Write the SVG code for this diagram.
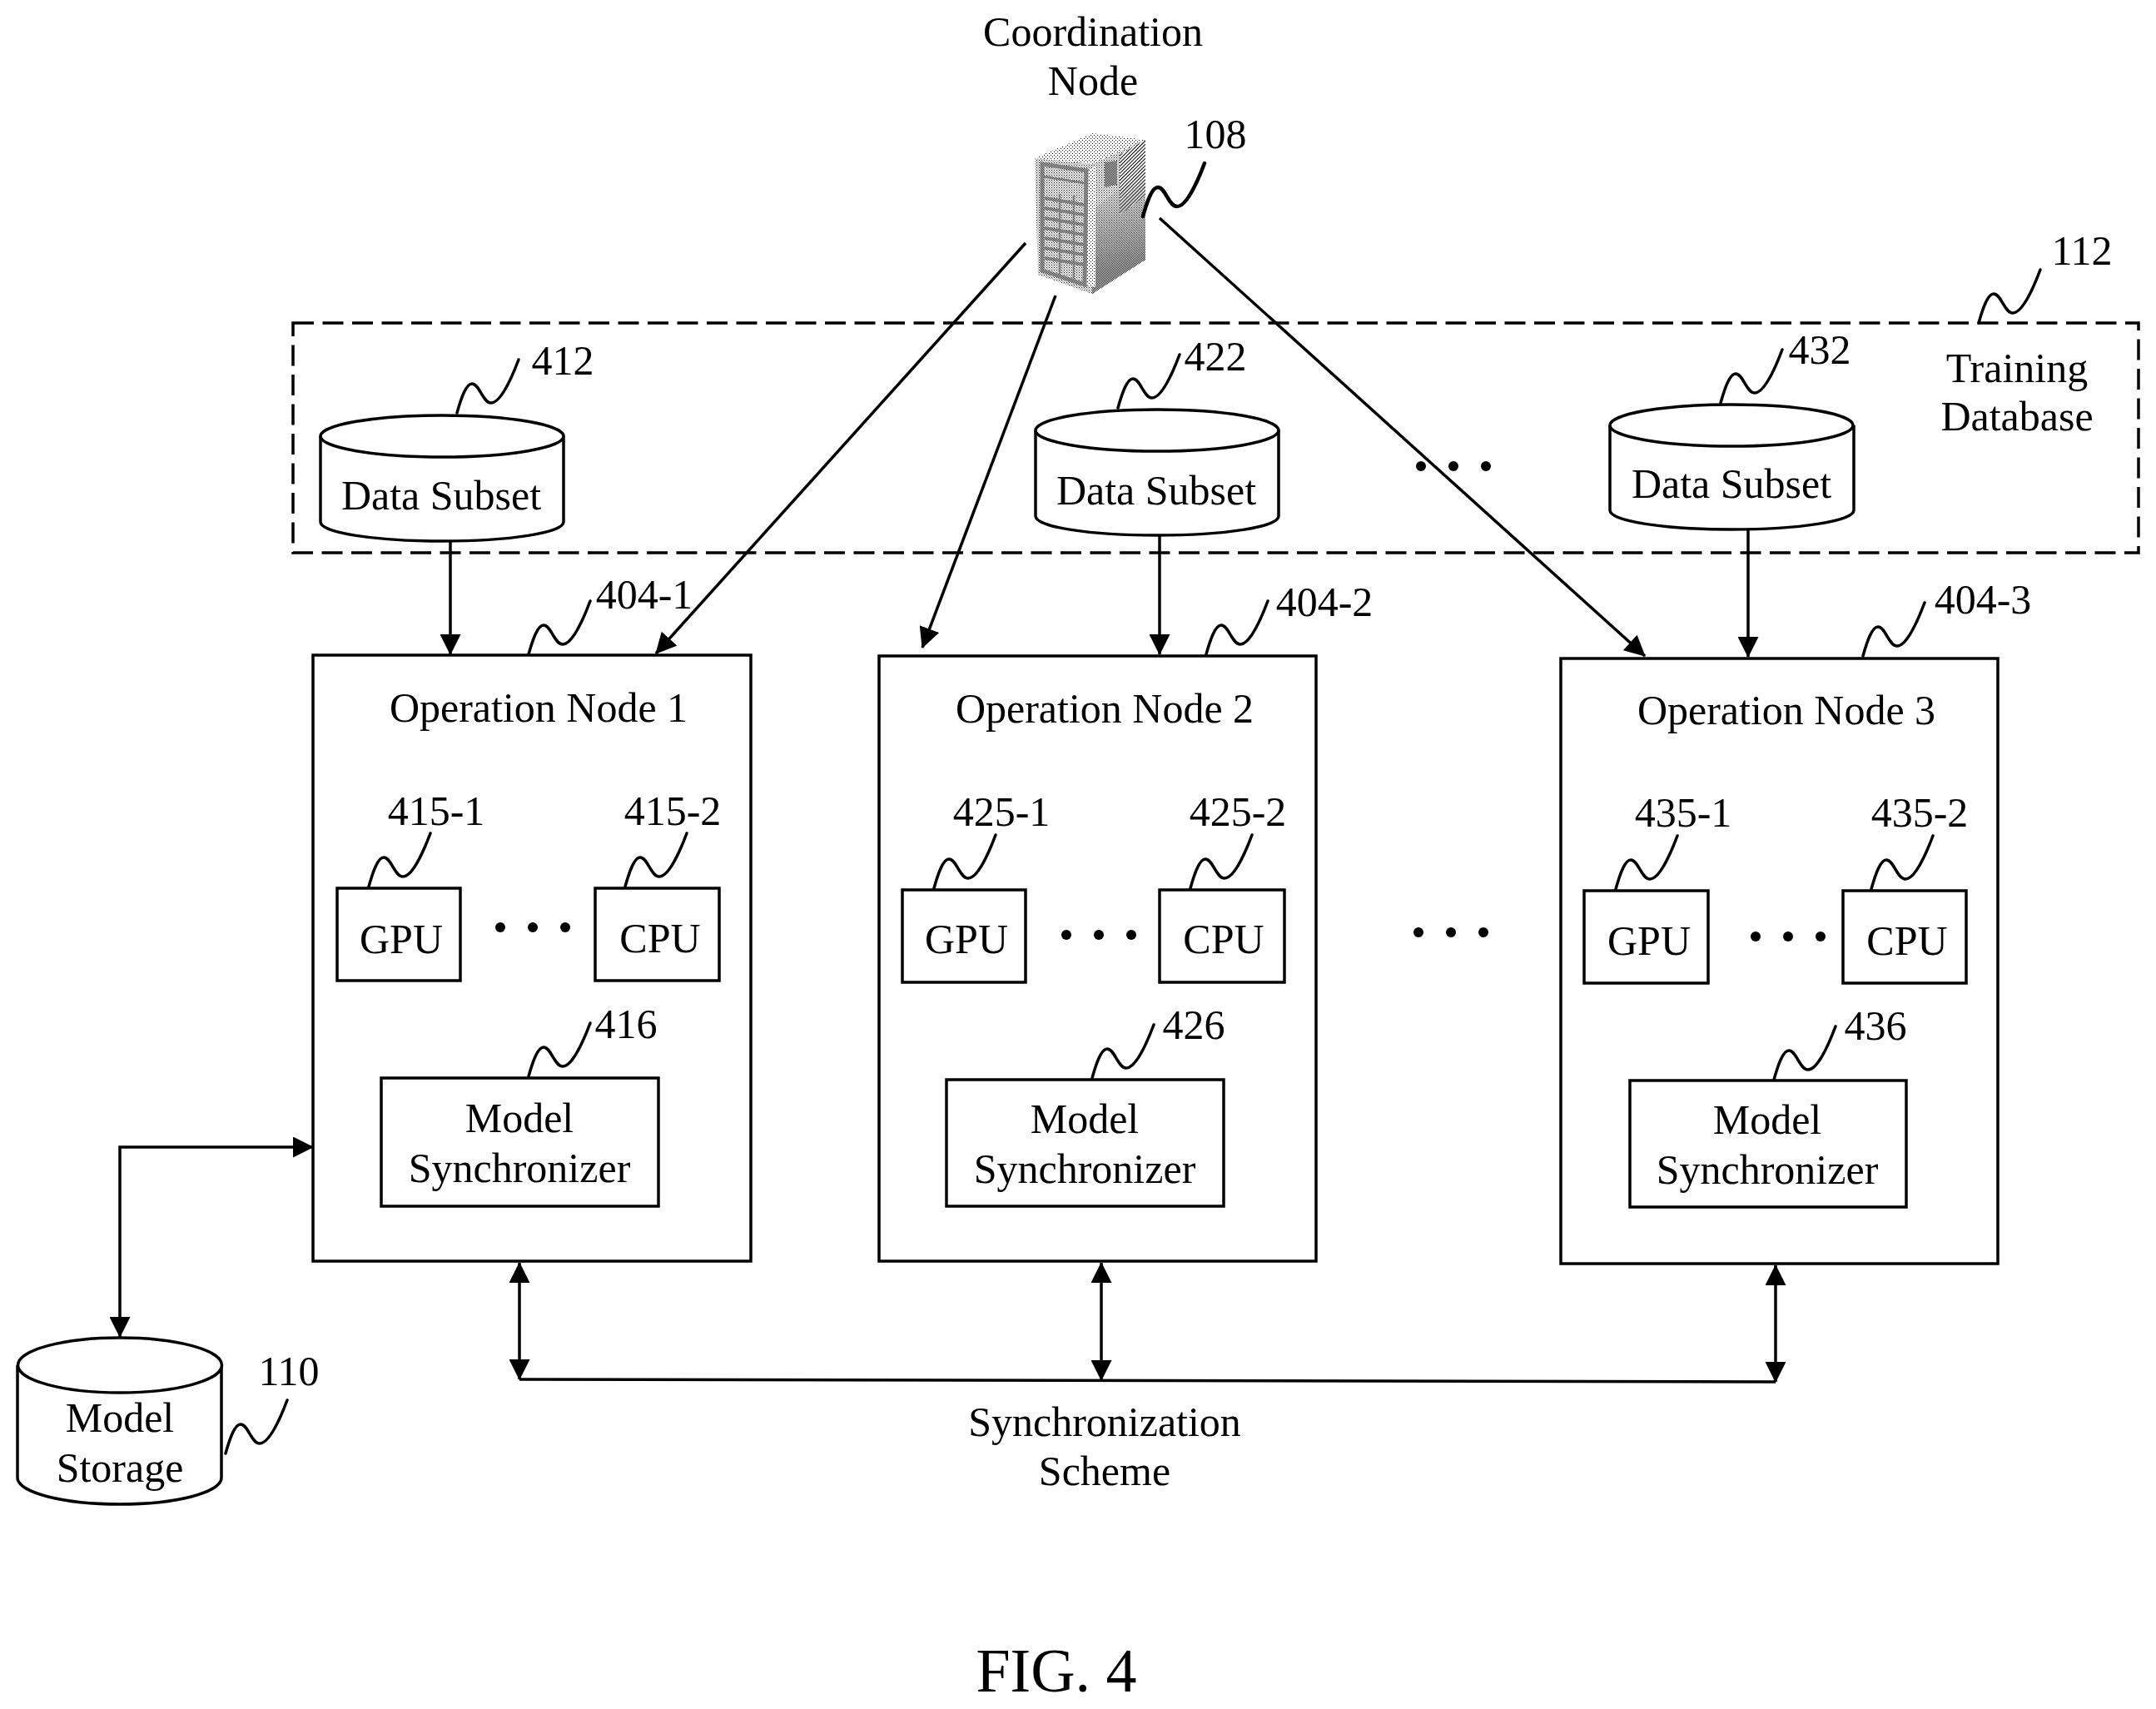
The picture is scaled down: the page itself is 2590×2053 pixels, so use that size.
<svg xmlns="http://www.w3.org/2000/svg" width="2590" height="2053" viewBox="0 0 2590 2053">
<style>
text{font-family:"Liberation Serif","Times New Roman",serif;font-size:50px;fill:#000;text-anchor:middle}
.b{fill:#fff;stroke:#000;stroke-width:3.500}
.n{fill:none;stroke:#000;stroke-width:3.500}
.l{fill:none;stroke:#000;stroke-width:3.500;stroke-linecap:round}
.c{fill:none;stroke:#000;stroke-width:3.500}
.a{marker-end:url(#h)}
.d{marker-start:url(#h);marker-end:url(#h)}
</style>
<defs>
<marker id="h" markerUnits="userSpaceOnUse" markerWidth="25" markerHeight="25" refX="24" refY="12.500" orient="auto-start-reverse"><path d="M0 0L25 12.500L0 25Z" fill="#000"/></marker>
<path id="s" d="M0 0C5 -18 11 -35 18 -35C27 -35 31 -12 41 -12C52 -12 65 -40 74 -64"/>
<pattern id="p1" width="4" height="4" patternUnits="userSpaceOnUse"><rect width="4" height="4" fill="#fff"/><rect width="1" height="1" fill="#000"/><rect x="2" y="2" width="1" height="1" fill="#000"/></pattern>
<pattern id="p2" width="3" height="3" patternUnits="userSpaceOnUse"><rect width="3" height="3" fill="#fff"/><rect width="1" height="1" fill="#000"/><rect x="1.500" y="1.500" width="1" height="1" fill="#000"/></pattern>
<pattern id="p3" width="2" height="2" patternUnits="userSpaceOnUse"><rect width="2" height="2" fill="#fff"/><rect width="1" height="1" fill="#000"/><rect x="1" y="1" width="1" height="1" fill="#000"/></pattern>
<pattern id="p4" width="3" height="3" patternUnits="userSpaceOnUse" patternTransform="rotate(-45)"><rect width="3" height="3" fill="#fff"/><rect width="3" height="1" fill="#000"/></pattern>
<linearGradient id="f" gradientUnits="userSpaceOnUse" x1="1330" y1="215" x2="1360" y2="320"><stop offset="0" stop-color="#000"/><stop offset="1" stop-color="#fff"/></linearGradient>
<mask id="m" maskUnits="userSpaceOnUse" x="1300" y="160" width="80" height="200"><rect x="1300" y="160" width="80" height="200" fill="url(#f)"/></mask>
</defs>
<g id="connectors">
<path class="c a" d="M541 650V786"/>
<path class="c a" d="M1232 292L788 785"/>
<path class="c a" d="M1268 355L1108 778"/>
<path class="c a" d="M1393 262L1976 788"/>
<path class="c a" d="M1393 643V786"/>
<path class="c a" d="M2100 636V789"/>
<path class="c d" d="M144 1606V1378H376"/>
<path class="c d" d="M624 1517V1657"/>
<path class="c d" d="M1323 1517V1658"/>
<path class="c d" d="M2133 1520V1660"/>
<path class="c" d="M624 1657L2133 1660"/>
</g>
<g id="training-database">
<rect x="352" y="388" width="2217" height="276" fill="none" stroke="#000" stroke-width="3.500" stroke-dasharray="25 10.500"/>
<text x="2423" y="459">Training</text><text x="2423" y="517">Database</text>
<use href="#s" class="l" x="2377" y="388"/><text x="2501" y="318">112</text>
</g>
<g id="coordination-node">
<text x="1313" y="55">Coordination</text><text x="1313" y="114">Node</text>
<polygon points="1243,190 1313,160 1376,168 1312,197" fill="url(#p1)"/>
<polygon points="1243,190 1312,197 1312,353 1247,330" fill="url(#p2)"/>
<polygon points="1312,197 1376,168 1376,312 1312,353" fill="url(#p2)"/>
<polygon points="1376,168 1376,235 1345,258 1345,186" fill="url(#p4)"/>
<polygon points="1376,200 1376,312 1312,353 1316,250" fill="url(#p3)" mask="url(#m)"/>
<polygon points="1327,195 1342,193 1342,222 1327,225" fill="url(#p3)"/>
<polygon points="1306,205 1316,200 1316,345 1304,342" fill="url(#p1)"/>
<g fill="none" stroke="url(#p3)">
<polygon points="1252,197 1305,205 1303,342 1252,325" stroke-width="5"/>
<path d="M1253 212L1304 220" stroke-width="3"/>
<path d="M1273 233V331M1290 235V336" stroke-width="2.500"/>
<path d="M1255 238L1302 246M1255 250L1302 258M1255 262L1302 270M1255 274L1302 282M1255 286L1302 294M1255 298L1302 306M1255 310L1302 318" stroke-width="4"/>
</g>
<use href="#s" class="l" x="1373" y="260" style="stroke-width:4.500"/><text x="1460" y="178">108</text>
</g>
<g id="subset-412">
<path class="b" d="M385 524V627C385 640 450 650 531 650S677 640 677 627V524"/>
<ellipse class="b" cx="531" cy="524" rx="146" ry="25"/>
<text x="530" y="612">Data Subset</text>
<use href="#s" class="l" x="549" y="496"/><text x="676" y="450">412</text>
</g>
<g id="subset-422">
<path class="b" d="M1244 517V620C1244 633 1309 643 1390 643S1536 633 1536 620V517"/>
<ellipse class="b" cx="1390" cy="517" rx="146" ry="25"/>
<text x="1389" y="606">Data Subset</text>
<use href="#s" class="l" x="1343" y="490"/><text x="1460" y="445">422</text>
</g>
<g id="subset-432">
<path class="b" d="M1934 511V613C1934 626 1999 636 2080 636S2227 626 2227 613V511"/>
<ellipse class="b" cx="2080" cy="511" rx="146" ry="25"/>
<text x="2080" y="598">Data Subset</text>
<use href="#s" class="l" x="2067" y="484"/><text x="2186" y="437">432</text>
</g>
<g id="operation-node-1">
<rect class="n" x="376" y="787" width="526" height="728"/>
<text x="647" y="867">Operation Node 1</text>
<use href="#s" class="l" x="635" y="786"/><text x="774" y="731">404-1</text>
<rect class="n" x="405" y="1067" width="148" height="111"/><text x="482" y="1145">GPU</text>
<use href="#s" class="l" x="443" y="1065"/><text x="524" y="991">415-1</text>
<rect class="n" x="715" y="1067" width="149" height="111"/><text x="793" y="1144">CPU</text>
<use href="#s" class="l" x="751" y="1065"/><text x="808" y="991">415-2</text>
<circle cx="601" cy="1114" r="6"/><circle cx="640" cy="1114" r="6"/><circle cx="679" cy="1114" r="6"/>
<rect class="n" x="458" y="1295" width="333" height="154"/>
<text x="624" y="1360">Model</text><text x="624" y="1420">Synchronizer</text>
<use href="#s" class="l" x="635" y="1293"/><text x="752" y="1247">416</text>
</g>
<g id="operation-node-2">
<rect class="n" x="1056" y="788" width="525" height="727"/>
<text x="1327" y="868">Operation Node 2</text>
<use href="#s" class="l" x="1449" y="786"/><text x="1591" y="740">404-2</text>
<rect class="n" x="1084" y="1069" width="148" height="111"/><text x="1161" y="1145">GPU</text>
<use href="#s" class="l" x="1122" y="1067"/><text x="1203" y="992">425-1</text>
<rect class="n" x="1393" y="1069" width="150" height="111"/><text x="1470" y="1145">CPU</text>
<use href="#s" class="l" x="1430" y="1067"/><text x="1487" y="992">425-2</text>
<circle cx="1281" cy="1123" r="6"/><circle cx="1320" cy="1123" r="6"/><circle cx="1359" cy="1123" r="6"/>
<rect class="n" x="1137" y="1297" width="333" height="152"/>
<text x="1303" y="1361">Model</text><text x="1303" y="1421">Synchronizer</text>
<use href="#s" class="l" x="1312" y="1295"/><text x="1434" y="1248">426</text>
</g>
<g id="operation-node-3">
<rect class="n" x="1875" y="791" width="525" height="727"/>
<text x="2146" y="870">Operation Node 3</text>
<use href="#s" class="l" x="2238" y="788"/><text x="2382" y="737">404-3</text>
<rect class="n" x="1903" y="1070" width="149" height="111"/><text x="1981" y="1147">GPU</text>
<use href="#s" class="l" x="1941" y="1068"/><text x="2022" y="993">435-1</text>
<rect class="n" x="2214" y="1070" width="148" height="111"/><text x="2291" y="1147">CPU</text>
<use href="#s" class="l" x="2248" y="1068"/><text x="2306" y="993">435-2</text>
<circle cx="2109" cy="1125" r="6"/><circle cx="2148" cy="1125" r="6"/><circle cx="2187" cy="1125" r="6"/>
<rect class="n" x="1958" y="1298" width="332" height="152"/>
<text x="2123" y="1362">Model</text><text x="2123" y="1422">Synchronizer</text>
<use href="#s" class="l" x="2131" y="1297"/><text x="2253" y="1249">436</text>
</g>
<g id="model-storage">
<path class="b" d="M21 1640V1775C21 1793 76 1807 144 1807S266 1793 266 1775V1640"/>
<ellipse class="b" cx="144" cy="1640" rx="122.500" ry="33"/>
<text x="144" y="1720">Model</text><text x="144" y="1780">Storage</text>
<use href="#s" class="l" x="271" y="1746"/><text x="347" y="1664">110</text>
</g>
<g id="dots"><circle cx="1707" cy="560" r="6"/><circle cx="1746" cy="560" r="6"/><circle cx="1785" cy="560" r="6"/><circle cx="1704" cy="1120" r="6"/><circle cx="1743" cy="1120" r="6"/><circle cx="1782" cy="1120" r="6"/></g>
<text x="1327" y="1725">Synchronization</text><text x="1327" y="1784">Scheme</text>
<text x="1269" y="2032" style="font-size:74px">FIG. 4</text>
</svg>
